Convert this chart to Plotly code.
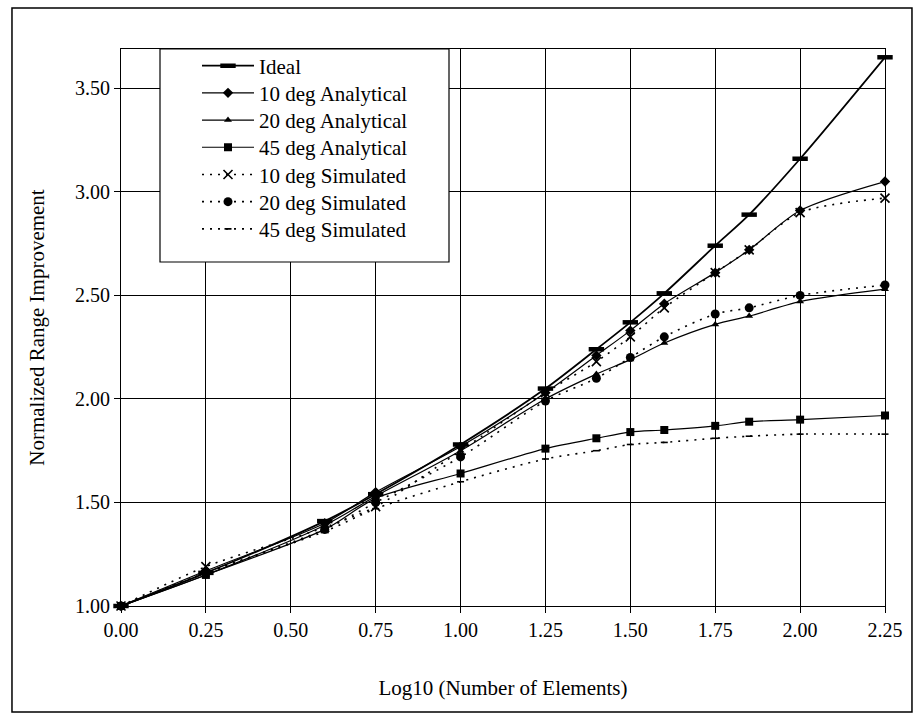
import plotly.graph_objects as go

# Data
log_n = [0.00, 0.25, 0.60, 0.75, 1.00, 1.25, 1.40, 1.50, 1.60, 1.75, 1.85, 2.00, 2.25]

ideal          = [1.00, 1.16, 1.41, 1.54, 1.78, 2.05, 2.24, 2.37, 2.51, 2.74, 2.89, 3.16, 3.65]
deg10_analytic = [1.00, 1.17, 1.40, 1.55, 1.77, 2.03, 2.21, 2.33, 2.46, 2.61, 2.72, 2.91, 3.05]
deg20_analytic = [1.00, 1.15, 1.39, 1.53, 1.75, 2.00, 2.12, 2.19, 2.27, 2.36, 2.40, 2.47, 2.53]
deg45_analytic = [1.00, 1.15, 1.37, 1.52, 1.64, 1.76, 1.81, 1.84, 1.85, 1.87, 1.89, 1.90, 1.92]
deg10_sim      = [1.00, 1.19, 1.38, 1.48, 1.75, 2.03, 2.18, 2.30, 2.44, 2.61, 2.72, 2.90, 2.97]
deg20_sim      = [1.00, 1.16, 1.37, 1.50, 1.72, 1.99, 2.10, 2.20, 2.30, 2.41, 2.44, 2.50, 2.55]
deg45_sim      = [1.00, 1.16, 1.36, 1.47, 1.60, 1.71, 1.75, 1.78, 1.79, 1.81, 1.82, 1.83, 1.83]

x_ticks = [0.00, 0.25, 0.50, 0.75, 1.00, 1.25, 1.50, 1.75, 2.00, 2.25]
y_ticks = [1.00, 1.50, 2.00, 2.50, 3.00, 3.50]

FONT = "Liberation Serif"
DOT = "2px,6px"

series = [
    ("Ideal", ideal, dict(width=1.8), dict(symbol="line-ew", size=11, line=dict(width=4.5, color="black"))),
    ("10 deg Analytical", deg10_analytic, dict(width=1.2), dict(symbol="diamond", size=8)),
    ("20 deg Analytical", deg20_analytic, dict(width=1.2), dict(symbol="triangle-up", size=7)),
    ("45 deg Analytical", deg45_analytic, dict(width=1.2), dict(symbol="square", size=8)),
    ("10 deg Simulated", deg10_sim, dict(width=1.6, dash=DOT), dict(symbol="x-thin", size=9, line=dict(width=1.6, color="black"))),
    ("20 deg Simulated", deg20_sim, dict(width=1.6, dash=DOT), dict(symbol="circle", size=9)),
    ("45 deg Simulated", deg45_sim, dict(width=1.6, dash=DOT), dict(symbol="line-ew", size=5, line=dict(width=1.6, color="black"))),
]

# plot-area geometry in pixels (for placing the legend box)
L, R, T, B = 121, 885, 49, 606
W, H = R - L, B - T
def px_x(p): return (p - L) / W
def px_y(p): return (B - p) / H

fig = go.Figure()
legends = {}
for i, (name, ys, ln, mk) in enumerate(series):
    ln = dict(ln, color="black", shape="spline", smoothing=0.8)
    mk = dict(mk, color="black")
    lg = "legend" if i == 0 else f"legend{i + 1}"
    fig.add_trace(go.Scatter(
        x=log_n, y=ys, name=name, mode="lines+markers",
        line=ln, marker=mk, cliponaxis=False, legend=lg, showlegend=True,
    ))
    legends[lg] = dict(
        x=px_x(197), y=px_y(66 + i * 27.2), xanchor="left", yanchor="middle",
        bgcolor="rgba(0,0,0,0)", borderwidth=0,
        font=dict(family=FONT, size=21, color="black"),
        itemwidth=52,
    )

axis_common = dict(
    showgrid=True, gridcolor="black", gridwidth=1,
    showline=True, linecolor="black", linewidth=1, mirror=True,
    ticks="outside", ticklen=6, tickcolor="black",
    tickfont=dict(family=FONT, size=20, color="black"),
    zeroline=False,
)

fig.update_layout(
    width=923, height=720,
    showlegend=True,
    margin=dict(l=L, r=923 - R, t=T, b=720 - B),
    paper_bgcolor="white", plot_bgcolor="white",
    font=dict(family=FONT, color="black"),
    xaxis=dict(axis_common, range=[0, 2.25], tickvals=x_ticks, tickformat=".2f",
               title=dict(text="Log10 (Number of Elements)", font=dict(family=FONT, size=21), standoff=40)),
    yaxis=dict(axis_common, range=[1, 3.69], tickvals=y_ticks, tickformat=".2f",
               title=dict(text="Normalized Range Improvement", font=dict(family=FONT, size=21), standoff=24)),
    shapes=[
        dict(type="rect", xref="paper", yref="paper",
             x0=-0.1427, x1=1.0353, y0=-0.1903, y1=1.0736,
             line=dict(color="black", width=1.5), fillcolor="rgba(0,0,0,0)", layer="below"),
        dict(type="rect", xref="paper", yref="paper",
             x0=px_x(160), x1=px_x(449), y0=px_y(262), y1=1.0,
             line=dict(color="black", width=1.2), fillcolor="white", layer="above"),
    ],
    **legends,
)

fig.write_html("out.html")
